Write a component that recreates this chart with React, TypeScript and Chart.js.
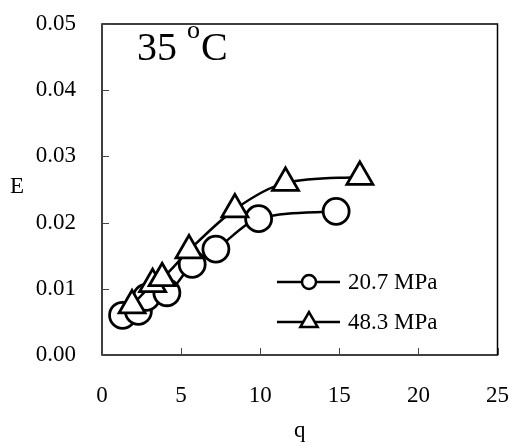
import React, { useEffect, useRef } from "react";
import { Chart, registerables } from "chart.js";

Chart.register(...registerables);

const qLow = [1.3, 2.3, 2.8, 4.1, 5.7, 7.2, 9.9, 14.8];
const eLow = [0.006, 0.0066, 0.0087, 0.0094, 0.0137, 0.016, 0.0206, 0.0217];
const qHigh = [1.9, 3.2, 3.8, 5.5, 8.4, 11.6, 16.3];
const eHigh = [0.0075, 0.0107, 0.0116, 0.0158, 0.022, 0.026, 0.0269];
const seriesLabels = ["20.7 MPa", "48.3 MPa"];
const xTicks = [0, 5, 10, 15, 20, 25];
const yTicks = [0, 0.01, 0.02, 0.03, 0.04, 0.05];

const SERIF = "'Liberation Serif', 'Times New Roman', serif";

function zeroPad(s: any) {
  s.paddingLeft = 0;
  s.paddingRight = 0;
  s.paddingTop = 0;
  s.paddingBottom = 0;
}

export default function App() {
  const ref = useRef<HTMLCanvasElement | null>(null);
  useEffect(() => {
    if (!ref.current) return;
    const decor = {
      id: "decor",
      afterDraw(chart: any) {
        const ctx = chart.ctx;
        const a = chart.chartArea;
        const xs = chart.scales.x;
        const ys = chart.scales.y;
        ctx.save();
        // frame
        ctx.strokeStyle = "#000";
        ctx.lineWidth = 1.5;
        ctx.strokeRect(a.left, a.top, a.right - a.left, a.bottom - a.top);
        // inward ticks
        ctx.lineWidth = 1;
        ctx.strokeStyle = "#444";
        ctx.beginPath();
        for (const v of yTicks) {
          const y = Math.round(ys.getPixelForValue(v)) + 0.5;
          ctx.moveTo(a.left, y);
          ctx.lineTo(a.left + 7, y);
        }
        for (const v of xTicks) {
          const x = Math.round(xs.getPixelForValue(v)) + 0.5;
          ctx.moveTo(x, a.bottom);
          ctx.lineTo(x, a.bottom - 7);
        }
        ctx.stroke();
        // axis titles
        ctx.fillStyle = "#000";
        ctx.font = `23px ${SERIF}`;
        ctx.textAlign = "center";
        ctx.textBaseline = "middle";
        ctx.fillText("q", (a.left + a.right) / 2, 431);
        ctx.fillText("E", 17, 187);
        // temperature label
        ctx.textAlign = "left";
        ctx.textBaseline = "alphabetic";
        ctx.font = `40px ${SERIF}`;
        ctx.fillText("35", 137, 60);
        ctx.font = `26px ${SERIF}`;
        ctx.fillText("o", 187, 38);
        ctx.font = `40px ${SERIF}`;
        ctx.fillText("C", 201, 60);
        // legend
        const items = [
          { y: 282, style: "circle" },
          { y: 322, style: "triangle" },
        ];
        items.forEach((it, i) => {
          ctx.strokeStyle = "#000";
          ctx.lineWidth = 2.5;
          ctx.beginPath();
          ctx.moveTo(277, it.y);
          ctx.lineTo(340, it.y);
          ctx.stroke();
          ctx.fillStyle = "#fff";
          ctx.beginPath();
          if (it.style === "circle") {
            ctx.arc(309, it.y, 7, 0, Math.PI * 2);
          } else {
            const r = 10;
            const cy = it.y;
            for (let k = 0; k < 3; k++) {
              const ang = (k * 2 * Math.PI) / 3;
              const px = 309 + Math.sin(ang) * r;
              const py = cy - Math.cos(ang) * r;
              if (k === 0) ctx.moveTo(px, py);
              else ctx.lineTo(px, py);
            }
            ctx.closePath();
          }
          ctx.fill();
          ctx.stroke();
          ctx.fillStyle = "#000";
          ctx.font = `23px ${SERIF}`;
          ctx.textAlign = "left";
          ctx.textBaseline = "middle";
          ctx.fillText(seriesLabels[i], 348, it.y + 1);
        });
        ctx.restore();
      },
    };
    const chart = new Chart(ref.current, {
      type: "line",
      data: {
        datasets: [
          {
            label: seriesLabels[1],
            data: qHigh.map((q, i) => ({ x: q, y: eHigh[i] })),
            borderColor: "#000",
            borderWidth: 2.5,
            backgroundColor: "#fff",
            pointStyle: "triangle",
            pointRadius: 15,
            pointBorderWidth: 2.8,
            pointBackgroundColor: "#fff",
            pointBorderColor: "#000",
            cubicInterpolationMode: "monotone",
            fill: false,
            clip: false,
          },
          {
            label: seriesLabels[0],
            data: qLow.map((q, i) => ({ x: q, y: eLow[i] })),
            borderColor: "#000",
            borderWidth: 2.5,
            backgroundColor: "#fff",
            pointStyle: "circle",
            pointRadius: 13,
            pointBorderWidth: 2.8,
            pointBackgroundColor: "#fff",
            pointBorderColor: "#000",
            cubicInterpolationMode: "monotone",
            fill: false,
            clip: false,
          },
        ],
      },
      options: {
        responsive: false,
        animation: false,
        events: [],
        layout: { autoPadding: false, padding: { left: 0, top: 24, right: 14.5, bottom: 0 } },
        plugins: { legend: { display: false }, tooltip: { enabled: false } },
        scales: {
          x: {
            type: "linear",
            min: 0,
            max: 25,
            afterFit: (s: any) => {
              s.height = 91;
              zeroPad(s);
            },
            afterBuildTicks: (s: any) => {
              s.ticks = xTicks.map((v) => ({ value: v }));
            },
            grid: { display: false, drawTicks: false },
            border: { display: false },
            ticks: {
              color: "#000",
              padding: 27,
              maxRotation: 0,
              font: { family: SERIF, size: 23 },
              callback: (v: any) => String(v),
            },
          },
          y: {
            type: "linear",
            min: 0,
            max: 0.05,
            afterFit: (s: any) => {
              s.width = 102;
              zeroPad(s);
            },
            afterBuildTicks: (s: any) => {
              s.ticks = yTicks.map((v) => ({ value: v }));
            },
            grid: { display: false, drawTicks: false },
            border: { display: false },
            ticks: {
              color: "#000",
              padding: 26,
              font: { family: SERIF, size: 23 },
              callback: (v: any) => Number(v).toFixed(2),
            },
          },
        },
      },
      plugins: [decor],
    } as any);
    return () => chart.destroy();
  }, []);
  return (
    <div style={{ position: "fixed", left: 0, top: 0, width: 512, height: 446, background: "#fff" }}>
      <canvas ref={ref} width={512} height={446} style={{ display: "block" }} />
    </div>
  );
}
